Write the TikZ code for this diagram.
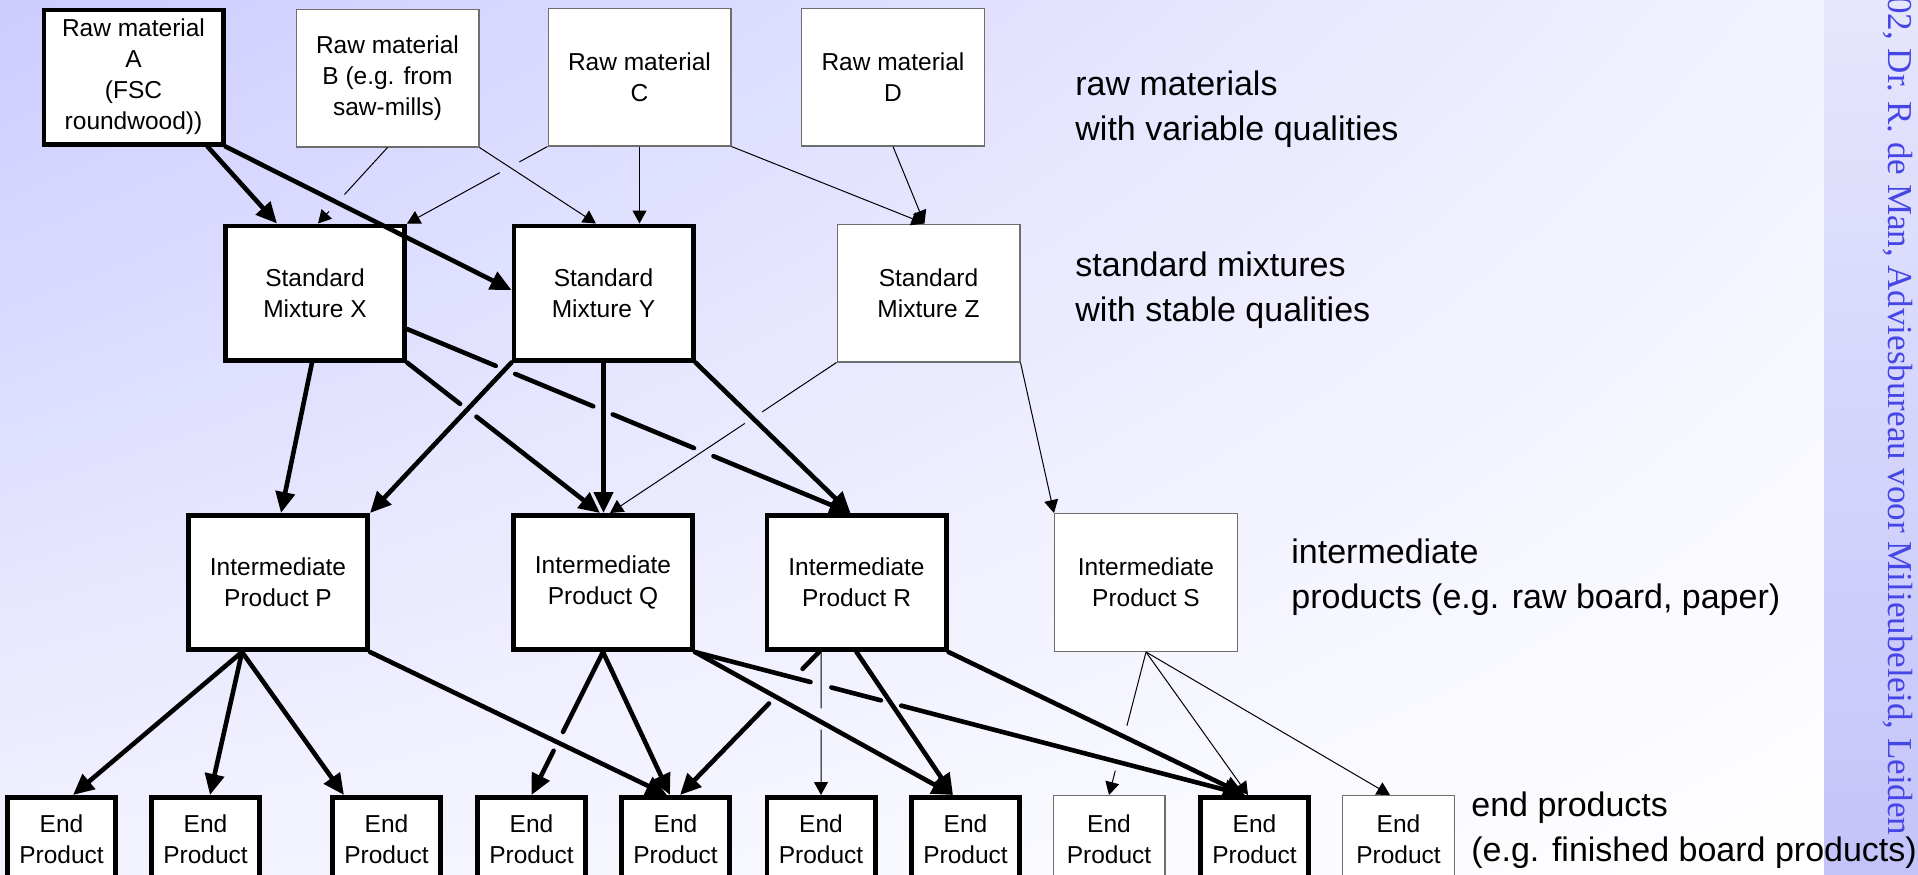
\documentclass[tikz,border=0pt]{standalone}
\usepackage{fontspec}
\setmainfont{Liberation Sans}
\newfontfamily\stripfont{Liberation Serif}
\usetikzlibrary{arrows.meta,calc,shadings}
\definecolor{bglav}{RGB}{204,204,255}
\definecolor{bgpale}{RGB}{242,242,255}
\definecolor{striptop}{RGB}{230,230,253}
\definecolor{stripbottom}{RGB}{195,195,250}
\definecolor{stripblue}{RGB}{70,70,230}
\definecolor{boxgray}{RGB}{110,110,110}

\begin{document}
\begin{tikzpicture}[
    x=0.5pt, y=-0.5pt,
    box/.style={draw, fill=white, align=center, inner sep=1pt, font=\fontsize{12.25}{15.5}\selectfont},
    strong/.style={box, line width=2.3pt, minimum width=89.7pt, minimum height=67.2pt},
    weak/.style={box, draw=boxgray, line width=0.6pt, minimum width=91.4pt, minimum height=68.9pt},
    endstrong/.style={strong, minimum width=54.2pt, minimum height=41.7pt},
    endweak/.style={weak, minimum width=55.9pt, minimum height=43.4pt},
    heavy/.style={line width=2.3pt, line cap=round, -{Triangle[length=10.5pt,width=9.5pt]}},
    light/.style={line width=0.5pt, -{Triangle[length=6.5pt,width=7pt]}},
    tier/.style={anchor=base west, align=left, inner sep=0pt, font=\fontsize{17}{22.25}\selectfont}
]

\useasboundingbox (0,0) rectangle (1918,874);
\clip (0,0) rectangle (1918,874);
\shade[upper left=bglav, upper right=bgpale, lower left=bgpale, lower right=white] (0,0) rectangle (1824,874);
\shade[top color=striptop, bottom color=stripbottom] (1824,0) rectangle (1918,874);
\node[rotate=-90, anchor=base west, inner sep=0pt, text=stripblue, font=\stripfont\frenchspacing\fontsize{17.5}{20}\selectfont] (credit) at (1888,-4) {02, Dr. R. de Man, Adviesbureau voor Milieubeleid, Leiden};

\node[strong] (rawA) at (133.5,77) {Raw material\\A\\(FSC\\roundwood))};
\node[weak] (rawB) at (387.5,78) {Raw material\\B (e.g. from\\saw-mills)};
\node[weak] (rawC) at (639.5,77) {Raw material\\C};
\node[weak] (rawD) at (893,77) {Raw material\\D};

\node[strong] (mixX) at (315,293) {Standard\\Mixture X};
\node[strong] (mixY) at (603.5,293) {Standard\\Mixture Y};
\node[weak] (mixZ) at (928.5,293) {Standard\\Mixture Z};

\node[strong] (prodP) at (278,582.5) {Intermediate\\Product P};
\node[strong] (prodQ) at (603,582.5) {Intermediate\\Product Q};
\node[strong] (prodR) at (856.5,582.5) {Intermediate\\Product R};
\node[weak] (prodS) at (1146,582.5) {Intermediate\\Product S};

\node[endstrong] (end1) at (61.5,839) {End\\Product};
\node[endstrong] (end2) at (205.5,839) {End\\Product};
\node[endstrong] (end3) at (386.5,839) {End\\Product};
\node[endstrong] (end4) at (531.5,839) {End\\Product};
\node[endstrong] (end5) at (675.5,839) {End\\Product};
\node[endstrong] (end6) at (821,839) {End\\Product};
\node[endstrong] (end7) at (965.5,839) {End\\Product};
\node[endweak] (end8) at (1109,839) {End\\Product};
\node[endstrong] (end9) at (1254.5,839) {End\\Product};
\node[endweak] (end10) at (1398.5,839) {End\\Product};

\draw[heavy] ([xshift=37pt]rawA.south) -- ([xshift=-19pt]mixX.north);
\draw[heavy] (rawA.south east) -- ([yshift=1.5pt]mixY.west);
\draw[light] (rawB.south) -- ($(rawB.south)!.62!([xshift=1.5pt]mixX.north)$)
    ($(rawB.south)!.84!([xshift=1.5pt]mixX.north)$) -- ([xshift=1.5pt]mixX.north);
\draw[light] (rawB.south east) -- ([xshift=-3.75pt]mixY.north);
\draw[light] (rawC.south west) -- ($(rawC.south west)!.20!(mixX.north east)$)
    ($(rawC.south west)!.34!(mixX.north east)$) -- (mixX.north east);
\draw[light] (rawC.south) -- (rawC.south |- mixY.north);
\draw[light] (rawC.south east) -- ([xshift=-2pt]mixZ.north);
\draw[light] (rawD.south) -- ([xshift=-2pt]mixZ.north);

\draw[heavy] ([xshift=-1.5pt]mixX.south) -- ([xshift=1.5pt]prodP.north);
\draw[heavy] (mixX.south east) -- ($(mixX.south east)!.275!([xshift=-1.5pt]prodQ.north)$)
    ($(mixX.south east)!.36!([xshift=-1.5pt]prodQ.north)$) -- ([xshift=-1.5pt]prodQ.north);
\draw[heavy] ([yshift=-18pt]mixX.east) -- ($([yshift=-18pt]mixX.east)!.200!([xshift=-3pt]prodR.north)$)
    ($([yshift=-18pt]mixX.east)!.244!([xshift=-3pt]prodR.north)$) -- ($([yshift=-18pt]mixX.east)!.420!([xshift=-3pt]prodR.north)$)
    ($([yshift=-18pt]mixX.east)!.464!([xshift=-3pt]prodR.north)$) -- ($([yshift=-18pt]mixX.east)!.647!([xshift=-3pt]prodR.north)$)
    ($([yshift=-18pt]mixX.east)!.691!([xshift=-3pt]prodR.north)$) -- ([xshift=-3pt]prodR.north);
\draw[heavy] (mixY.south west) -- (prodP.north east);
\draw[heavy] (mixY.south) -- (mixY.south |- prodQ.north);
\draw[heavy] (mixY.south east) -- ([xshift=-3pt]prodR.north);
\draw[light] (mixZ.south west) -- ($(mixZ.south west)!.328!([xshift=3.5pt]prodQ.north)$)
    ($(mixZ.south west)!.405!([xshift=3.5pt]prodQ.north)$) -- ([xshift=3.5pt]prodQ.north);
\draw[light] (mixZ.south east) -- (prodS.north west);

\draw[heavy] ([xshift=-18pt]prodP.south) -- ([xshift=5.75pt]end1.north);
\draw[heavy] ([xshift=-18pt]prodP.south) -- ([xshift=2.25pt]end2.north);
\draw[heavy] ([xshift=-18pt]prodP.south) -- ([xshift=-21.25pt]end3.north);
\draw[heavy] (prodP.south east) -- ([xshift=-4.25pt]end5.north);
\draw[heavy] (prodQ.south) -- ($(prodQ.south)!.559!(end4.north)$)
    ($(prodQ.south)!.691!(end4.north)$) -- (end4.north);
\draw[heavy] (prodQ.south) -- ([xshift=-2.75pt]end5.north);
\draw[heavy] (prodQ.south east) -- ([xshift=-6.25pt]end7.north);
\draw[heavy] (prodQ.south east) -- ($(prodQ.south east)!.210!([xshift=-4.75pt]end9.north)$)
    ($(prodQ.south east)!.248!([xshift=-4.75pt]end9.north)$) -- ($(prodQ.south east)!.338!([xshift=-4.75pt]end9.north)$)
    ($(prodQ.south east)!.375!([xshift=-4.75pt]end9.north)$) -- ([xshift=-4.75pt]end9.north);
\draw[heavy] ([xshift=-18.75pt]prodR.south) -- ($([xshift=-18.75pt]prodR.south)!.118!([xshift=2.25pt]end5.north)$)
    ($([xshift=-18.75pt]prodR.south)!.36!([xshift=2.25pt]end5.north)$) -- ([xshift=2.25pt]end5.north);
\draw[light] (end6.north |- prodR.south) -- ($(end6.north |- prodR.south)!.394!(end6.north)$)
    ($(end6.north |- prodR.south)!.542!(end6.north)$) -- (end6.north);
\draw[heavy] (prodR.south) -- ([xshift=-6.25pt]end7.north);
\draw[heavy] (prodR.south east) -- ([xshift=-4.75pt]end9.north);
\draw[light] (prodS.south) -- ($(prodS.south)!.515!(end8.north)$)
    ($(prodS.south)!.83!(end8.north)$) -- (end8.north);
\draw[light] (prodS.south) -- ([xshift=-3.25pt]end9.north);
\draw[light] (prodS.south) -- ([xshift=-4.25pt]end10.north);

\node[tier] (rawlabel) at (1075,140) {raw materials\\with variable qualities};
\node[tier] (mixlabel) at (1075,321) {standard mixtures\\with stable qualities};
\node[tier] (prodlabel) at (1291,608) {intermediate\\products (e.g. raw board, paper)};
\node[tier] (endlabel) at (1471,861) {end products\\(e.g. finished board products)};

\end{tikzpicture}
\end{document}
